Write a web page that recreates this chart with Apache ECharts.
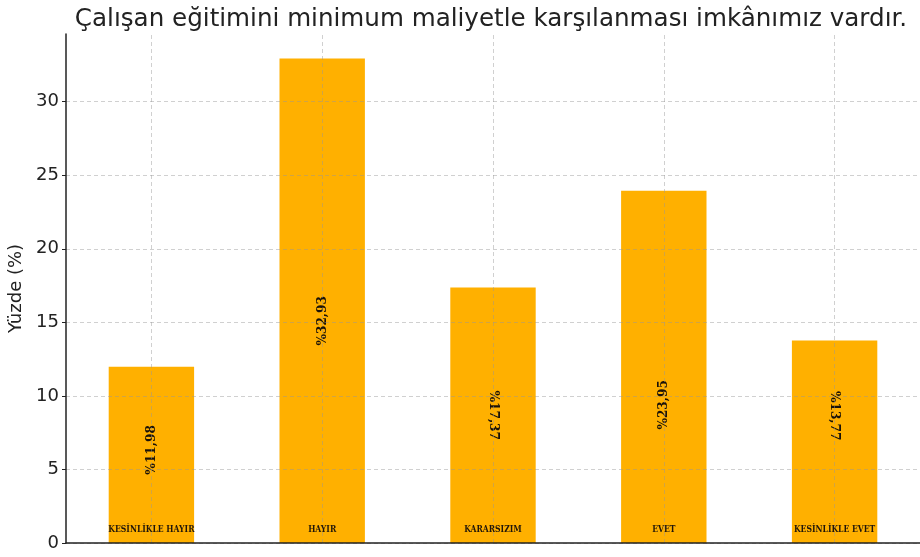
<!DOCTYPE html>
<html>
<head>
<meta charset="utf-8">
<script src="https://cdn.jsdelivr.net/npm/echarts@6/dist/echarts.min.js"></script>
<style>
  html, body { margin: 0; padding: 0; background: #fff; }
  #main { width: 920px; height: 557px; }
</style>
</head>
<body>
<div id="main"></div>
<script>
// veriler
var categories = ['KESİNLİKLE HAYIR', 'HAYIR', 'KARARSIZIM', 'EVET', 'KESİNLİKLE EVET'];
var percents = [11.98, 32.93, 17.37, 23.95, 13.77];
var valueLabels = ['%11,98', '%32,93', '%17,37', '%23,95', '%13,77'];
// etiket dönüşü ve dikey kaydırma, piksel (sadece görünüm)
var labelRotate = [90, 90, -90, 90, -90];
var labelShift = [-5, 20, 0, 38, -26];

var myChart = echarts.init(document.getElementById('main'));

var barData = percents.map(function (v, i) {
  // offset döndürülmüş eksende uygulanıyor
  var dir = labelRotate[i] > 0 ? -1 : 1;
  return {
    value: v,
    label: {
      rotate: labelRotate[i],
      offset: [dir * labelShift[i], 0],
      formatter: valueLabels[i]
    }
  };
});

myChart.setOption({
  animation: false,
  title: {
    text: 'Çalışan eğitimini minimum maliyetle karşılanması imkânımız vardır.',
    left: 486,
    textAlign: 'center',
    top: 2,
    textStyle: {
      fontFamily: 'DejaVu Sans',
      fontWeight: 'normal',
      fontSize: 24.6,
      color: '#222'
    }
  },
  grid: {
    left: 66,
    right: 0,
    top: 34,
    bottom: 14,
    containLabel: false,
    outerBoundsMode: 'none'
  },
  xAxis: {
    type: 'category',
    data: categories,
    z: 10,
    axisLine: { lineStyle: { color: '#222', width: 1.5 } },
    axisTick: { alignWithLabel: true, length: 4, lineStyle: { color: '#222' } },
    splitLine: { show: false },
    axisLabel: {
      inside: true,
      margin: 9,
      interval: 0,
      fontFamily: 'DejaVu Serif Condensed',
      fontWeight: 900,
      fontSize: 8.5,
      color: '#20160a'
    }
  },
  yAxis: {
    type: 'value',
    min: 0,
    max: 34.6,
    interval: 5,
    z: 3,
    name: 'Yüzde (%)',
    nameLocation: 'middle',
    nameGap: 40,
    nameTextStyle: { fontFamily: 'DejaVu Sans', fontSize: 18, color: '#222' },
    axisLine: { show: true, lineStyle: { color: '#222', width: 1.5 } },
    axisTick: { show: true, length: 4, lineStyle: { color: '#222' } },
    axisLabel: {
      showMaxLabel: false,
      fontFamily: 'DejaVu Sans',
      fontSize: 18,
      color: '#222',
      margin: 7
    },
    splitLine: {
      show: true,
      showMaxLine: false,
      lineStyle: { color: 'rgba(150,150,150,0.45)', type: [4, 3], width: 1 }
    }
  },
  series: [{
    type: 'bar',
    data: barData,
    barWidth: '50%',
    itemStyle: { color: '#FFB000' },
    label: {
      show: true,
      position: 'inside',
      fontFamily: 'DejaVu Serif Condensed',
      fontWeight: 900,
      fontSize: 13.5,
      color: '#1a1208'
    },
    markLine: {
      silent: true,
      symbol: 'none',
      label: { show: false },
      lineStyle: { color: 'rgba(150,150,150,0.45)', type: [4, 3], width: 1 },
      data: categories.map(function (c) { return { xAxis: c }; })
    }
  }]
});
</script>
</body>
</html>
